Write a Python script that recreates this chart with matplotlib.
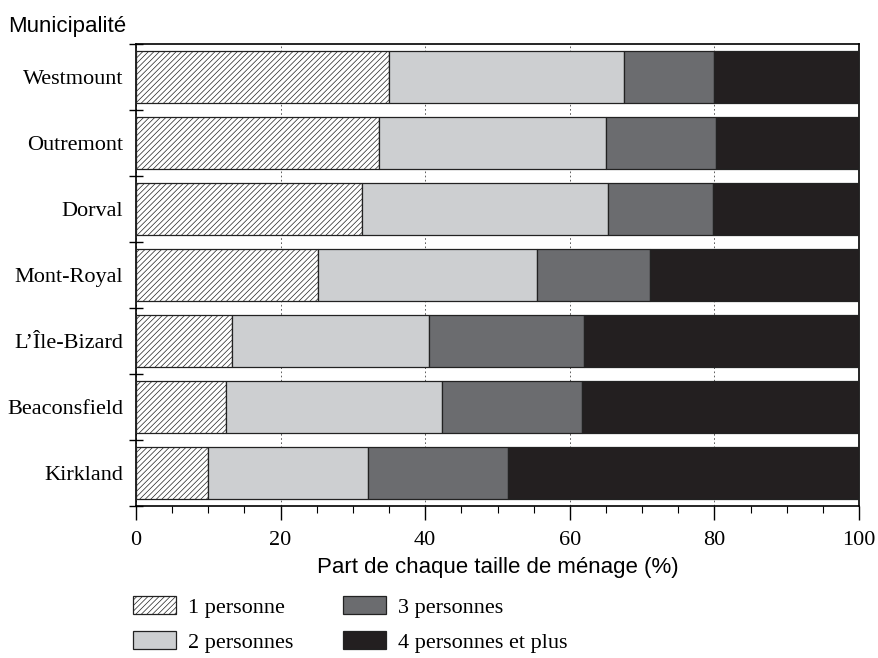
import numpy as np
import matplotlib.pyplot as plt
from matplotlib.ticker import MultipleLocator

# Household size share by municipality (%)
municipalites = ["Westmount", "Outremont", "Dorval", "Mont-Royal",
                 "L\u2019\u00cele-Bizard", "Beaconsfield", "Kirkland"]
une_personne = [35.0, 33.6, 31.3, 25.2, 13.3, 12.4, 9.9]
deux_personnes = [32.5, 31.4, 34.0, 30.3, 27.2, 29.9, 22.2]
trois_personnes = [12.4, 15.2, 14.5, 15.6, 21.5, 19.4, 19.4]
quatre_plus = [100 - a - b - c for a, b, c in zip(une_personne, deux_personnes, trois_personnes)]

labels = ["1 personne", "2 personnes", "3 personnes", "4 personnes et plus"]
colors = ["white", "#cdcfd1", "#6b6c6f", "#231f20"]

plt.rcParams["hatch.linewidth"] = 0.5
plt.rcParams["hatch.color"] = "#707070"

SERIF = "Liberation Serif"
SANS = "Liberation Sans"
FS = 16

fig = plt.figure(figsize=(8.79, 6.58), dpi=100)
ax = fig.add_axes([0.1547, 0.231, 0.8226, 0.7021])

y = np.arange(len(municipalites))
left = np.zeros(len(municipalites))
handles = []
for i, vals in enumerate([une_personne, deux_personnes, trois_personnes, quatre_plus]):
    h = ax.barh(y, vals, left=left, height=0.8, color=colors[i], edgecolor="#222222",
                linewidth=0.9, hatch="//////" if i == 0 else None, label=labels[i], zorder=3)
    handles.append(h)
    left += np.array(vals)

ax.set_xlim(0, 100)
ax.set_ylim(len(municipalites) - 0.5, -0.5)
ax.set_yticks(y)
ax.set_yticklabels(municipalites, fontfamily=SERIF, fontsize=FS)
ax.tick_params(axis="y", which="major", length=0, pad=9)
ax.set_yticks(np.arange(-0.5, len(municipalites) + 0.5, 1), minor=True)
ax.tick_params(axis="y", which="minor", direction="inout", length=10, width=1)

ax.xaxis.set_major_locator(MultipleLocator(20))
ax.xaxis.set_minor_locator(MultipleLocator(5))
ax.tick_params(axis="x", which="major", length=10, width=1, direction="out", pad=8)
ax.tick_params(axis="x", which="minor", length=5, width=0.8, direction="out")
for lbl in ax.get_xticklabels():
    lbl.set_fontfamily(SERIF)
    lbl.set_fontsize(FS)

ax.grid(axis="x", which="major", color="#444444", linewidth=0.6, linestyle=(0, (2, 3)), zorder=0)
for s in ax.spines.values():
    s.set_linewidth(1.2)

ax.set_xlabel("Part de chaque taille de ménage (%)", fontfamily=SANS,
              fontsize=FS, labelpad=5)
fig.text(0.009, 0.944, "Municipalité", fontfamily=SANS, fontsize=FS,
         ha="left", va="bottom")

fig.legend(handles=handles, labels=labels, ncol=2, frameon=False,
           loc="upper left", bbox_to_anchor=(0.151, 0.094),
           borderaxespad=0, borderpad=0,
           prop={"family": SERIF, "size": FS},
           handlelength=1.95, handleheight=0.85, handletextpad=0.55,
           columnspacing=2.2, labelspacing=0.62)

fig.savefig("out.png", dpi=100)
